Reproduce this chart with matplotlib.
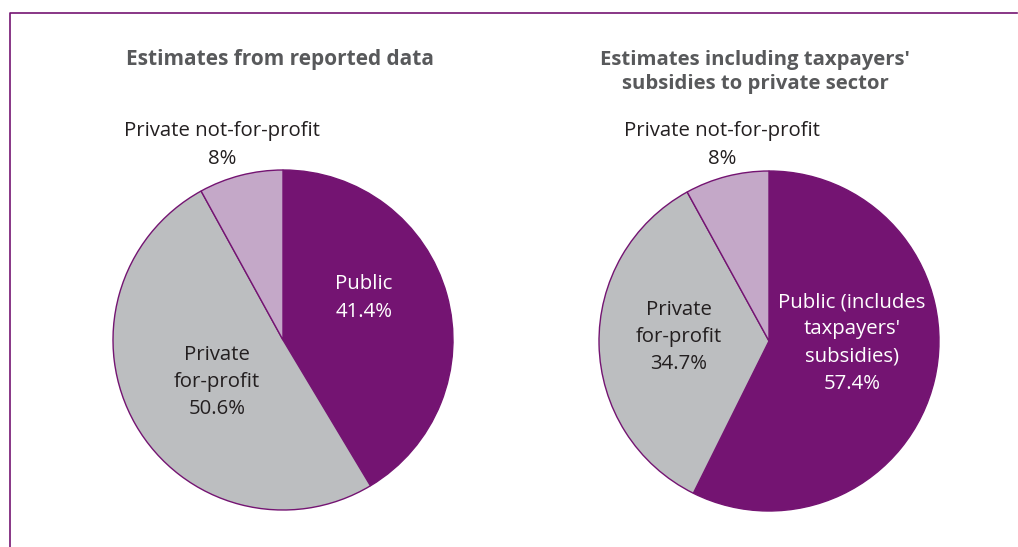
'''
Two pies: share of spending by sector, reported vs including taxpayers' subsidies.
'''

import matplotlib.pyplot as plt

sectors = ['Public', 'Private for-profit', 'Private not-for-profit']
reported = [41.4, 50.6, 8.0]
with_subsidies = [57.4, 34.7, 8.0]

colors = ['#741472', '#BCBEC0', '#C4A8C8']
edge = '#741472'
title_color = '#58595B'
text_color = '#231F20'

plt.rcParams['font.family'] = ['Open Sans', 'DejaVu Sans']

fig = plt.figure(figsize=(10.18, 5.47), dpi=100)
ax = fig.add_axes([0, 0, 1, 1])

# frame (top and left edges visible)
ax.plot([10, 10, 1017], [0, 534, 534], color=edge, lw=1.2)

wp = dict(edgecolor=edge, linewidth=1)
ax.pie(reported, colors=colors, startangle=90, counterclock=False,
       center=(283, 207), radius=170, wedgeprops=wp, frame=True)
ax.pie(with_subsidies, colors=colors, startangle=90, counterclock=False,
       center=(769, 206), radius=170, wedgeprops=wp, frame=True)
ax.set_xlim(0, 1018)
ax.set_ylim(0, 547)
ax.set_aspect('equal')
ax.axis('off')

fs = 14.7
ls = 1.48
tfs = 15

# titles
ax.text(280, 488, 'Estimates from reported data', ha='center', va='center',
        fontsize=tfs, fontweight='bold', color=title_color)
ax.text(755, 475, "Estimates including taxpayers'\nsubsidies to private sector",
        ha='center', va='center', fontsize=14.6, fontweight='bold',
        color=title_color, linespacing=1.32)

# left pie labels
ax.text(364, 249, 'Public\n%.1f%%' % reported[0], ha='center', va='center',
        fontsize=fs, color='white', linespacing=ls)
ax.text(217, 165, 'Private\nfor-profit\n%.1f%%' % reported[1], ha='center',
        va='center', fontsize=fs, color=text_color, linespacing=ls)
ax.text(222, 402, 'Private not-for-profit\n%d%%' % reported[2], ha='center',
        va='center', fontsize=fs, color=text_color, linespacing=ls)

# right pie labels
ax.text(852, 204, "Public (includes\ntaxpayers'\nsubsidies)\n%.1f%%" % with_subsidies[0],
        ha='center', va='center', fontsize=fs, color='white', linespacing=ls)
ax.text(679, 210, 'Private\nfor-profit\n%.1f%%' % with_subsidies[1], ha='center',
        va='center', fontsize=fs, color=text_color, linespacing=ls)
ax.text(722, 402, 'Private not-for-profit\n%d%%' % with_subsidies[2], ha='center',
        va='center', fontsize=fs, color=text_color, linespacing=ls)

plt.savefig('out.png', dpi=100)
